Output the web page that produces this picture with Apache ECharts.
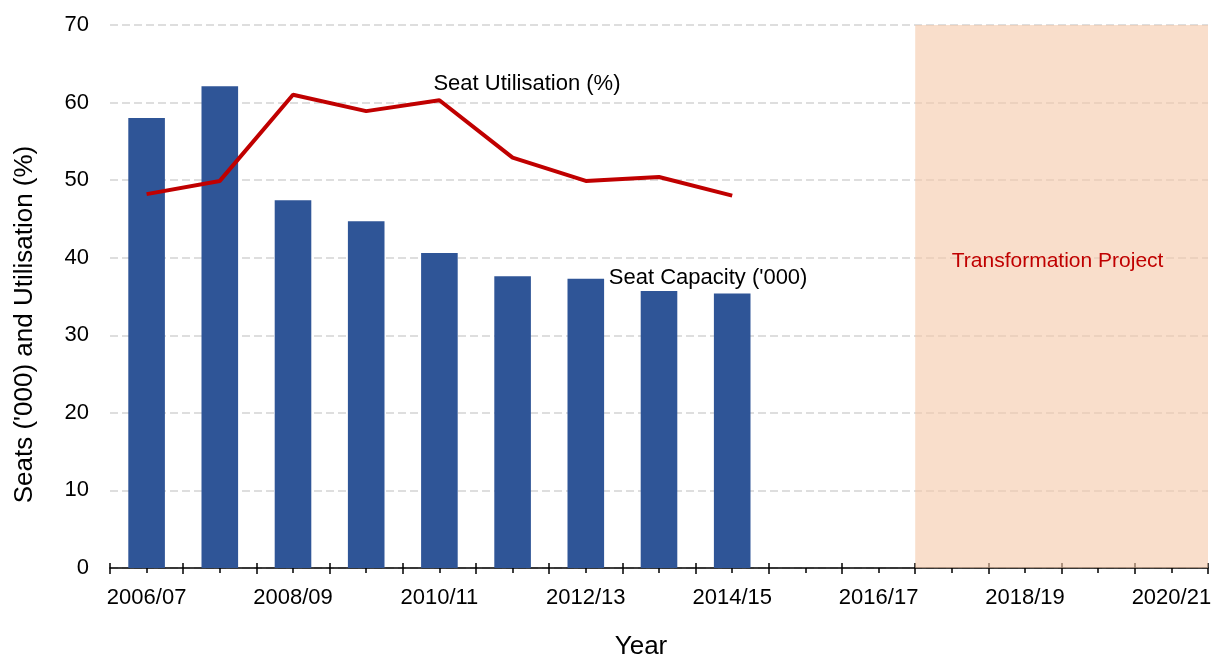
<!DOCTYPE html>
<html>
<head>
<meta charset="utf-8">
<style>
  html, body { margin: 0; padding: 0; background: #fff; }
  #chart { width: 1212px; height: 659px; }
</style>
<script src="https://cdn.jsdelivr.net/npm/echarts@6/dist/echarts.min.js"></script>
</head>
<body>
<div id="chart"></div>
<script>
// data
const years = [
  "2006/07", "2007/08", "2008/09", "2009/10", "2010/11",
  "2011/12", "2012/13", "2013/14", "2014/15", "2015/16",
  "2016/17", "2017/18", "2018/19", "2019/20", "2020/21",
];
const seatCapacity = [58.0, 62.1, 47.4, 44.7, 40.6, 37.6, 37.3, 35.7, 35.4, null, null, null, null, null, null];
const seatUtilisation = [48.2, 49.9, 61.0, 58.9, 60.3, 52.9, 49.9, 50.4, 48.0, null, null, null, null, null, null];
const projectSpan = ["2017/18", "2020/21"];
const yTicks = { min: 0, max: 70, interval: 10 };

const font = "'Liberation Sans', Arial, sans-serif";
const chart = echarts.init(document.getElementById("chart"));

let option = {
  animation: false,
  backgroundColor: "#ffffff",
  textStyle: { fontFamily: font },
  grid: { left: 110, right: 4, top: 25, bottom: 91, containLabel: false, outerBoundsMode: "none" },
  xAxis: [
    {
      type: "category",
      data: years,
      position: "bottom",
      axisLine: { lineStyle: { color: "#000", width: 1.5 } },
      axisTick: { show: true, interval: 0, length: 6, lineStyle: { color: "#000", width: 1.5 } },
      axisLabel: { interval: 1, color: "#000", fontSize: 22, fontFamily: font, margin: 19 },
      splitLine: { show: false },
      name: "Year",
      nameLocation: "middle",
      nameGap: 66,
      nameTextStyle: { color: "#000", fontSize: 26, fontFamily: font, padding: [0, 36, 0, 0] },
    },
    {
      // short marks crossing the axis line upwards
      type: "category",
      data: years,
      position: "bottom",
      offset: 0,
      axisLine: { show: false },
      axisTick: { show: true, interval: 0, inside: true, length: 5, lineStyle: { color: "#000", width: 1.5 } },
      axisLabel: { show: false },
    },
    {
      // small marks at category centres
      type: "category",
      data: years,
      position: "bottom",
      offset: 0,
      axisLine: { show: false },
      axisTick: { show: true, interval: 0, alignWithLabel: true, length: 5, lineStyle: { color: "#000", width: 1.5 } },
      axisLabel: { show: false },
    },
  ],
  yAxis: {
    type: "value",
    min: yTicks.min,
    max: yTicks.max,
    interval: yTicks.interval,
    axisLine: { show: false },
    axisTick: { show: false },
    axisLabel: { color: "#000", fontSize: 22, fontFamily: font, margin: 21 },
    splitLine: { lineStyle: { color: "#d4d4d4", width: 1.5, type: [8, 4] } },
    name: "Seats ('000) and Utilisation (%)",
    nameLocation: "middle",
    nameGap: 72,
    nameTextStyle: { color: "#000", fontSize: 26, fontFamily: font, padding: [0, 56, 0, 0] },
  },
  series: [
    {
      name: "Seat Capacity ('000)",
      type: "bar",
      data: seatCapacity,
      barCategoryGap: "50%",
      itemStyle: { color: "#2f5597" },
      markArea: {
        silent: true,
        itemStyle: { color: "rgba(245,200,168,0.6)" },
        label: {
          show: true,
          position: "inside",
          offset: [-4, -35],
          color: "#c00000",
          fontSize: 21,
          fontFamily: font,
        },
        data: [[{ name: "Transformation Project", xAxis: projectSpan[0] }, { xAxis: projectSpan[1] }]],
      },
      markPoint: {
        silent: true,
        symbolSize: 0,
        label: {
          show: true,
          position: "inside",
          align: "left",
          offset: [23, 0],
          color: "#000",
          fontSize: 22,
          fontFamily: font,
          formatter: "Seat Capacity ('000)",
        },
        data: [{ coord: ["2012/13", 37.45] }],
      },
    },
    {
      name: "Seat Utilisation (%)",
      type: "line",
      data: seatUtilisation,
      symbol: "none",
      lineStyle: { color: "#c00000", width: 4 },
      itemStyle: { color: "#c00000" },
      z: 3,
      markPoint: {
        silent: true,
        symbolSize: 0,
        label: {
          show: true,
          position: "inside",
          align: "left",
          offset: [-6, 0],
          color: "#000",
          fontSize: 22,
          fontFamily: font,
          formatter: "Seat Utilisation (%)",
        },
        data: [{ coord: ["2010/11", 62.4] }],
      },
    },
  ],
};
chart.setOption(option);
</script>
</body>
</html>
